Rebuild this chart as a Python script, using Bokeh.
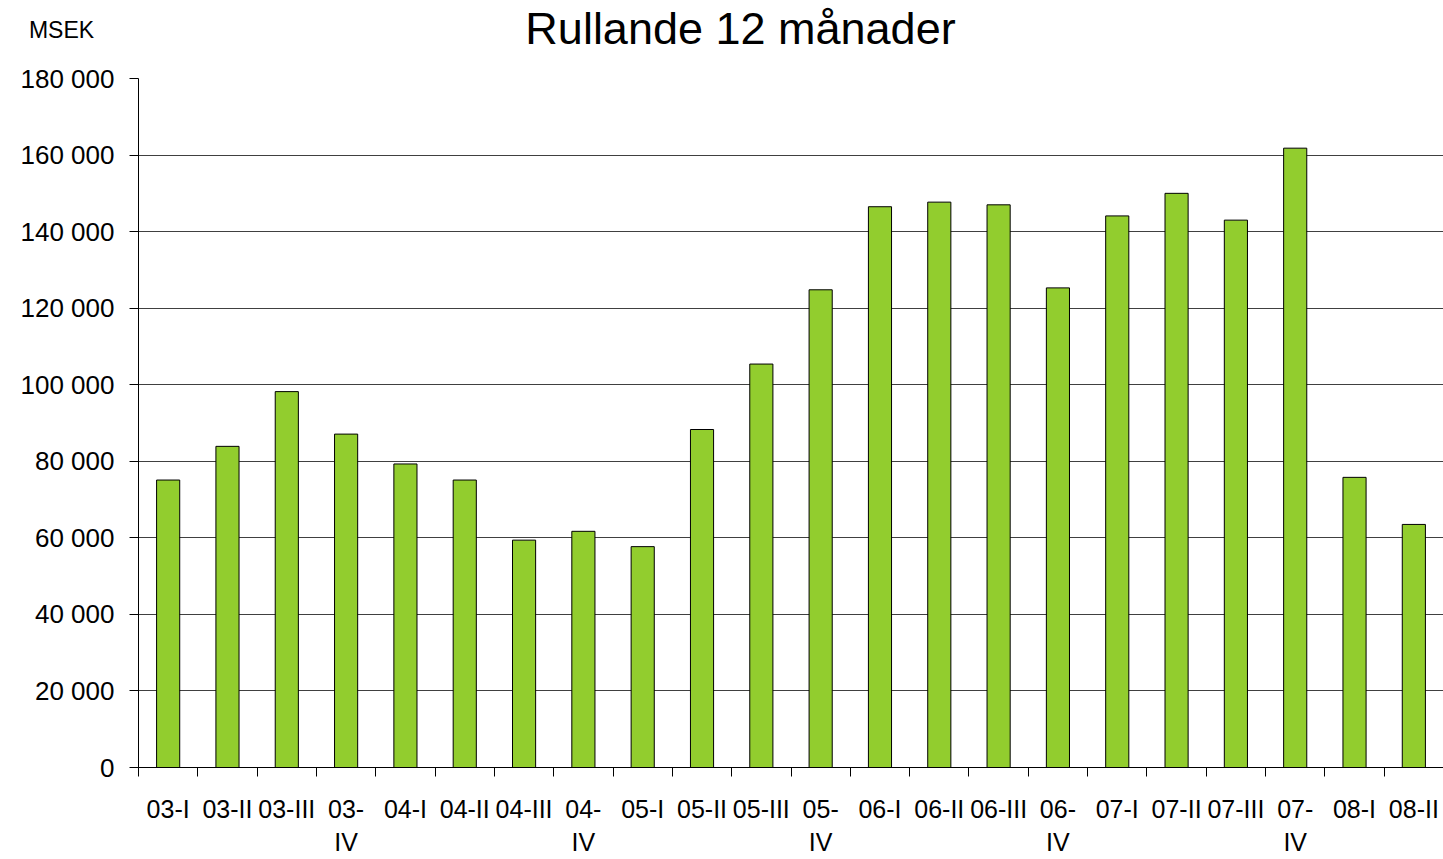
from bokeh.plotting import figure
from bokeh.models import Range1d, FixedTicker, Label, ColumnDataSource
from bokeh.embed import file_html
from bokeh.resources import INLINE

categories = ["03-I", "03-II", "03-III", "03-IV", "04-I", "04-II", "04-III", "04-IV",
              "05-I", "05-II", "05-III", "05-IV", "06-I", "06-II", "06-III", "06-IV",
              "07-I", "07-II", "07-III", "07-IV", "08-I", "08-II"]
values = [75100, 83900, 98200, 87100, 79300, 75100, 59400, 61700,
          57700, 88300, 105400, 124800, 146500, 147700, 147000, 125300,
          144100, 150000, 143000, 161800, 75800, 63500]
y_ticks = [0, 20000, 40000, 60000, 80000, 100000, 120000, 140000, 160000, 180000]
y_labels = ["0", "20 000", "40 000", "60 000", "80 000", "100 000", "120 000",
            "140 000", "160 000", "180 000"]
title_text = "Rullande 12 månader"
unit_text = "MSEK"

N = len(categories)
YMAX = y_ticks[-1]

centers = [i + 0.5 for i in range(N)]
source = ColumnDataSource(dict(x=centers, top=values, cat=categories))

FONT = "Liberation Sans"

p = figure(width=1443, height=859, output_backend="svg", toolbar_location=None,
           x_range=Range1d(0, N), y_range=Range1d(0, YMAX),
           min_border_left=138, min_border_right=0, min_border_top=78, min_border_bottom=91)
p.outline_line_color = None
p.background_fill_color = "white"
p.border_fill_color = "white"

p.vbar(x="x", top="top", width=0.39, source=source, fill_color="#92CD2E",
       line_color="black", line_width=1)

# x axis: labels at centers, ticks at category boundaries
xa = p.xaxis[0]
xa.ticker = FixedTicker(ticks=centers, minor_ticks=list(range(N + 1)))
xa.major_label_overrides = {c: (lab.replace("-IV", "-\nIV")) for c, lab in zip(centers, categories)}
xa.major_tick_out = 0
xa.major_tick_in = 0
xa.minor_tick_out = 9
xa.minor_tick_in = 0
xa.minor_tick_line_color = "black"
xa.axis_line_color = "black"
xa.major_label_standoff = 18
xa.major_label_text_font = FONT
xa.major_label_text_font_size = "25px"
xa.major_label_text_color = "black"
xa.major_label_orientation = "horizontal"

ya = p.yaxis[0]
ya.ticker = FixedTicker(ticks=y_ticks, minor_ticks=[])
ya.major_label_overrides = {t: l for t, l in zip(y_ticks, y_labels)}
ya.major_tick_out = 9
ya.major_tick_in = 0
ya.minor_tick_out = 0
ya.minor_tick_in = 0
ya.major_tick_line_color = "black"
ya.axis_line_color = "black"
ya.major_label_standoff = 15
ya.major_label_text_font = FONT
ya.major_label_text_font_size = "26px"
ya.major_label_text_color = "black"

p.xgrid.grid_line_color = None
p.ygrid.ticker = FixedTicker(ticks=y_ticks)
p.ygrid.grid_line_color = "#404040"
p.ygrid.grid_line_width = 1

# texts in the top panel (offsets relative to the panel, in pixels)
p.add_layout(Label(x=602, y=50, x_units="screen", y_units="screen", text=title_text,
                   text_align="center", text_baseline="middle", text_font=FONT,
                   text_font_size="45px", text_color="black"), "above")
p.add_layout(Label(x=-77, y=-2, x_units="screen", y_units="screen", text=unit_text,
                   text_align="center", text_baseline="middle", text_font=FONT,
                   text_font_size="23px", text_color="black"), "above")

open("out.html", "w").write(file_html(p, INLINE))
